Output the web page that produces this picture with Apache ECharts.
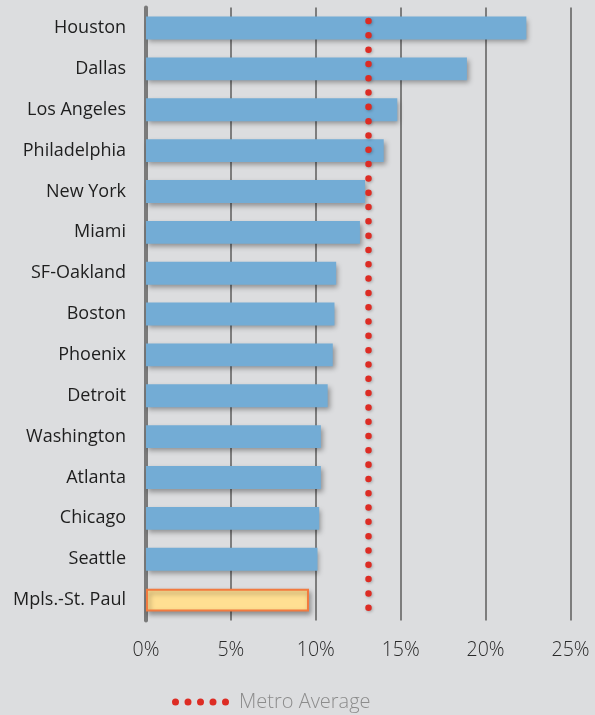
<!DOCTYPE html>
<html>
<head>
<meta charset="utf-8">
<script src="https://cdn.jsdelivr.net/npm/echarts@6/dist/echarts.min.js"></script>
<style>
html,body{margin:0;padding:0;background:#dcdddf;}
#c{width:595px;height:715px;}
</style>
</head>
<body>
<div id="c"></div>
<script>
var categories = ['Houston','Dallas','Los Angeles','Philadelphia','New York','Miami','SF-Oakland','Boston','Phoenix','Detroit','Washington','Atlanta','Chicago','Seattle','Mpls.-St. Paul'];
var values = [22.4, 18.9, 14.8, 14.0, 12.9, 12.6, 11.2, 11.1, 11.0, 10.7, 10.3, 10.3, 10.2, 10.1, 9.6];
var metroAverage = 13.1;
var highlightCity = 'Mpls.-St. Paul';
var xTicks = [0, 5, 10, 15, 20, 25];

var barData = categories.map(function (c, i) {
  if (c === highlightCity) {
    return { value: values[i], itemStyle: { color: '#ffdf92', borderColor: '#f27a3f', borderWidth: 2 } };
  }
  return values[i];
});

var dots = 'path://M0,3.5a3,3 0 1,0 7,0a3,3 0 1,0 -7,0Z M12.5,3.5a3,3 0 1,0 7,0a3,3 0 1,0 -7,0Z M25,3.5a3,3 0 1,0 7,0a3,3 0 1,0 -7,0Z M37.5,3.5a3,3 0 1,0 7,0a3,3 0 1,0 -7,0Z M50,3.5a3,3 0 1,0 7,0a3,3 0 1,0 -7,0Z';

var chart = echarts.init(document.getElementById('c'));
chart.setOption({
  backgroundColor: '#dcdddf',
  animation: false,
  grid: { left: 146, right: 24.5, top: 7.6, bottom: 94.5, containLabel: false },
  legend: {
    data: [{ name: 'Metro Average', icon: dots }],
    bottom: -2,
    left: 167,
    itemWidth: 57,
    itemHeight: 7,
    textStyle: { color: '#8c8c8c', fontSize: 20, fontFamily: 'Open Sans', fontWeight: 300, padding: [0, 0, 0, 5] }
  },
  xAxis: {
    type: 'value',
    min: xTicks[0],
    max: xTicks[xTicks.length - 1],
    interval: 5,
    axisLine: { show: false },
    axisTick: { show: false },
    splitLine: { show: true, lineStyle: { color: '#7d7d7d', width: 2 } },
    axisLabel: { formatter: '{value}%', color: '#2a2a2a', fontSize: 19.5, fontFamily: 'Open Sans', fontWeight: 300, margin: 20 }
  },
  yAxis: {
    type: 'category',
    data: categories,
    inverse: true,
    axisLine: { show: true, lineStyle: { color: '#7a7a7a', width: 4 } },
    axisTick: { show: false },
    axisLabel: { color: '#1e1e1e', fontSize: 18, fontFamily: 'Open Sans', margin: 20 }
  },
  series: [
    {
      type: 'bar',
      name: 'Share',
      data: barData,
      barCategoryGap: '44%',
      itemStyle: {
        color: '#73acd5',
        shadowColor: 'rgba(0,0,0,0.35)',
        shadowBlur: 5,
        shadowOffsetX: 2,
        shadowOffsetY: 3
      },
      z: 2
    },
    {
      type: 'line',
      name: 'Metro Average',
      data: [],
      color: '#dd2c24',
      markLine: {
        silent: true,
        symbol: ['none', 'none'],
        label: { show: false },
        lineStyle: {
          color: '#dd2c24',
          width: 6.5,
          type: [0.01, 14.3],
          dashOffset: 0.9,
          cap: 'round',
          shadowColor: 'rgba(0,0,0,0.25)',
          shadowBlur: 3,
          shadowOffsetX: 1,
          shadowOffsetY: 1
        },
        data: [{ xAxis: metroAverage }]
      },
      z: 5
    }
  ]
});
</script>
</body>
</html>
